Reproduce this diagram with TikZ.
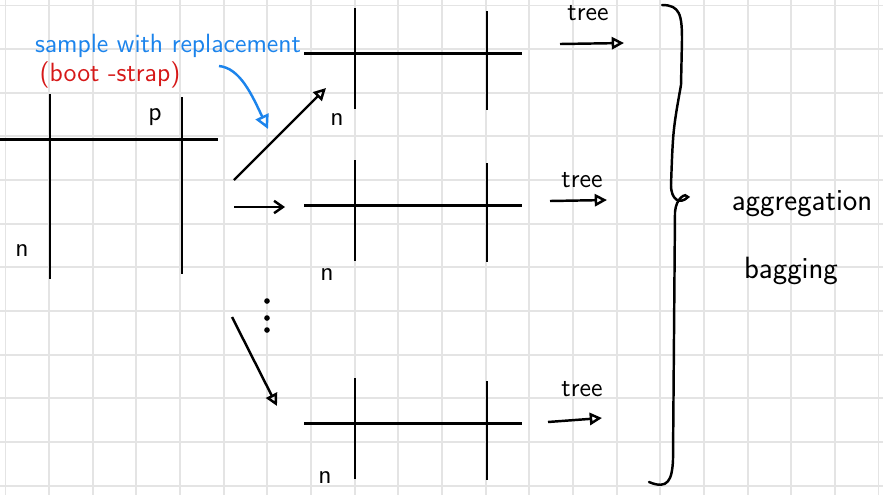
\documentclass[tikz,border=0pt]{standalone}
\usepackage{tikz}
\usetikzlibrary{arrows.meta,positioning,calc}
\definecolor{inkblue}{RGB}{28,132,236}
\definecolor{inkred}{RGB}{214,24,24}
\definecolor{gridgray}{RGB}{228,228,228}

\begin{document}
\begin{tikzpicture}[x=0.02cm, y=-0.02cm,
      every node/.style={font=\sffamily\fontsize{15}{18}\selectfont, inner sep=0pt},
      gl/.style={gridgray, line width=1.1pt},
      tb/.style={black, line width=1.7pt},
      ar/.style={black, line width=1.4pt, -{Triangle[open, length=7pt, width=7pt]}},
      br/.style={black, line width=1.4pt, line cap=round},
      hd/.style={inkblue},
      lf/.style={font=\sffamily\fontsize{17.5}{20}\selectfont}
    ]
    \useasboundingbox (0,0) rectangle (883,495);
    \fill[white] (0,0) rectangle (883,495);
    % grid paper
    \foreach \i in {0,...,20} \draw[gl] ({5.5+43.65*\i},0) -- ({5.5+43.65*\i},495);
    \foreach \j in {0,...,11} \draw[gl] (0,{5.5+43.65*\j}) -- (883,{5.5+43.65*\j});
    % headings
    \node[hd] (smp) at (168,46) {sample with replacement};
    \node[text=inkred] (bst) at (110,75) {(boot -strap)};
    \coordinate (bs0) at (219,66);
    \coordinate (bs1) at (268,129);
    \draw[inkblue, line width=1.4pt, -{Triangle[open, length=8pt, width=8pt]}]
      (bs0) .. controls (240,68) and (252,95) .. (bs1);
    % data table
    \draw[tb] (0,139) -- (218,139);
    \draw[tb] (50,94) -- (50,279);
    \draw[tb] (182,97) -- (182,274);
    \node (p0) at (155,117) {p};
    \node (n0) at (22,251) {n};
    % arrows to samples
    \coordinate (a1) at (234,180);  \coordinate (b1) at (326,88);
    \coordinate (a2) at (234,207);  \coordinate (b2) at (285,207);
    \coordinate (a3) at (232,317);  \coordinate (b3) at (277,406);
    \draw[ar] (a1) -- (b1);
    \draw[black, line width=1.4pt, -{Straight Barb[length=5pt, width=7pt]}] (a2) -- (b2);
    \draw[ar] (a3) -- (b3);
    \foreach \y in {301,318,330} \fill (267,\y) circle (1.6pt);
    % bootstrap tables
    \foreach \k/\dy/\nx/\ny in {1/53/337/120, 2/205/327/275, 3/423/325/478}{
      \draw[tb] (304,\dy) -- (522,\dy);
      \draw[tb] (355,{\dy-45}) -- (355,{\dy+56});
      \draw[tb] (487,{\dy-42}) -- (487,{\dy+57});
      \node (n\k) at (\nx,\ny) {n};
    }
    % trees
    \node (t1) at (588,13) {tree};
    \node (t2) at (582,180) {tree};
    \node (t3) at (582,389) {tree};
    \coordinate (c1) at (560,44);  \coordinate (d1) at (624,43);
    \coordinate (c2) at (550,201); \coordinate (d2) at (607,200);
    \coordinate (c3) at (548,422); \coordinate (d3) at (602,418);
    \draw[ar] (c1) -- (d1);
    \draw[ar] (c2) -- (d2);
    \draw[ar] (c3) -- (d3);
    % brace
    \draw[br] (662,5) .. controls (680,5) and (682,15) .. (682,40) -- (681,85)
      .. controls (673,130) .. (671,185) .. controls (671,200) and (680,205) .. (688,197)
      .. controls (686,192) and (676,198) .. (675,212) -- (673,460)
      .. controls (672,480) and (668,490) .. (649,482);
    % result
    \node[lf] (agg) at (802,204) {aggregation};
    \node[lf] (bag) at (791,271) {bagging};
  \end{tikzpicture}
\end{document}
